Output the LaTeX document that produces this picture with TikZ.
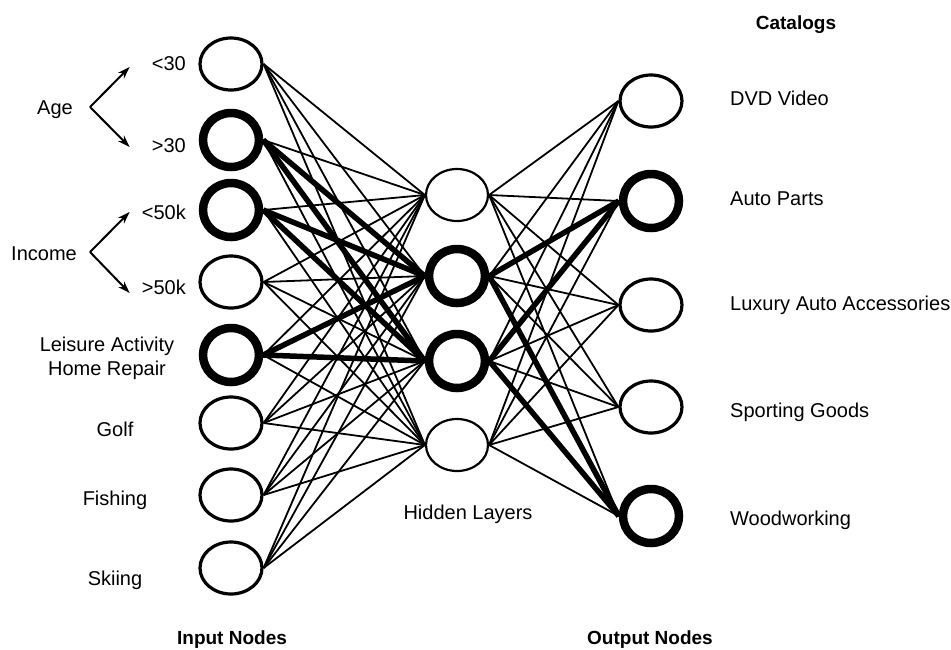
\documentclass[tikz,border=0pt]{standalone}
\usepackage{fontspec}
\setmainfont{Liberation Sans}
\usetikzlibrary{arrows.meta,shapes.geometric}

\begin{document}
\begin{tikzpicture}[
  x=1pt,y=-1pt,
  unit/.style={ellipse,draw=black,fill=white,line width=3.2pt,minimum width=62pt,minimum height=52pt,inner sep=0pt},
  calm/.style={},
  faint/.style={line width=2.2pt},
  hot/.style={line width=8.5pt,minimum width=56pt,minimum height=54pt},
  link/.style={black,line width=1.8pt},
  strong/.style={black,line width=5.5pt},
  branch/.style={-{Stealth[length=12pt,width=8pt]},line width=2pt},
  every node/.style={font=\fontsize{20}{24}\selectfont},
  caption/.style={text height=14pt,text depth=0pt,inner sep=0pt},
  head/.style={font=\fontsize{19}{22}\selectfont\bfseries}
]
  \useasboundingbox (0,0) rectangle (951,649);
  % layers
  \foreach \i/\yy/\s in {1/64/calm,2/140/hot,3/210/hot,4/282/calm,5/355/hot,6/423/calm,7/495/calm,8/568/calm}
    \node[unit,\s] (in\i) at (231,\yy) {};
  \foreach \i/\yy/\s in {1/195/faint,2/276/hot,3/361/hot,4/445/faint}
    \node[unit,\s] (hid\i) at (457,\yy) {};
  \foreach \i/\yy/\s in {1/101/calm,2/201/hot,3/305/calm,4/407/calm,5/516/hot}
    \node[unit,\s] (out\i) at (651,\yy) {};
  % weights
  \foreach \a in {1,...,8}
    \foreach \b in {1,...,4}
      \draw[link] (in\a.east)--(hid\b.west);
  \foreach \a in {1,...,4}
    \foreach \b in {1,...,5}
      \draw[link] (hid\a.east)--(out\b.west);
  \foreach \a in {2,3,5}
    \foreach \b in {2,3}
      \draw[strong] (in\a.east)--(hid\b.west);
  \foreach \a in {2,3}
    \foreach \b in {2,5}
      \draw[strong] (hid\a.east)--(out\b.west);
  % input labels
  \foreach \n/\yy/\t in {lt30/63/{<30},gt30/145/{>30},lt50/212/{<50k},gt50/287/{>50k}}
    \node[caption,anchor=east] (\n) at (186,\yy) {\t};
  \node[caption] (age) at (55,107) {Age};
  \node[caption] (income) at (44,253) {Income};
  \coordinate (agefork) at (90,107);
  \coordinate (incfork) at (90,252);
  \draw[branch] (agefork)--([xshift=-22pt,yshift=-4pt]lt30.west);
  \draw[branch] (agefork)--([xshift=-22pt,yshift=-2pt]gt30.west);
  \draw[branch] (incfork)--([xshift=-12pt,yshift=0pt]lt50.west);
  \draw[branch] (incfork)--([xshift=-12pt,yshift=-6pt]gt50.west);
  \node[align=center,inner sep=0pt] (leisure) at (107,358) {Leisure Activity\\Home Repair};
  \foreach \n/\yy/\t in {golf/429/Golf,fishing/498/Fishing,skiing/578/Skiing}
    \node[caption] (\n) at (115,\yy) {\t};
  % output labels
  \foreach \n/\yy/\t in {dvd/98/DVD Video,parts/198/Auto Parts,luxury/303/Luxury Auto Accessories,sport/410/Sporting Goods,wood/518/Woodworking}
    \node[caption,anchor=west] (\n) at (730,\yy) {\t};
  \node[caption] (hidden) at (468,512) {Hidden Layers};
  \node[caption,head] (catalogs) at (796,22) {Catalogs};
  \node[caption,head] (innodes) at (232,637) {Input Nodes};
  \node[caption,head] (outnodes) at (650,637) {Output Nodes};
\end{tikzpicture}
\end{document}
